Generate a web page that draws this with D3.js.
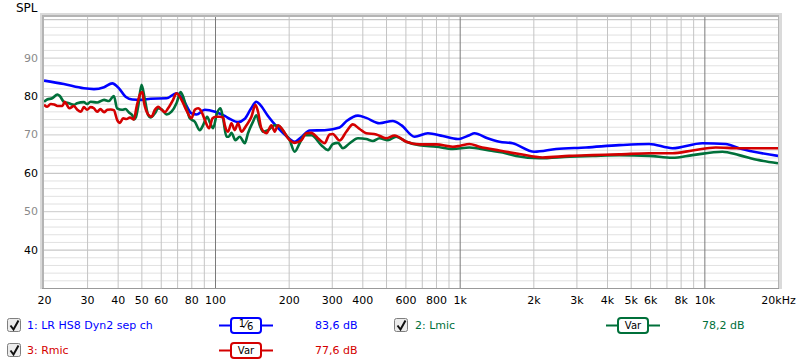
<!DOCTYPE html>
<html>
<head>
<meta charset="utf-8">
<script src="https://cdn.jsdelivr.net/npm/d3@7"></script>
<style>
    body { margin: 0; background: #ffffff; }
    text { font-family: "DejaVu Sans", sans-serif; font-size: 11px; }
</style>
</head>
<body>
<div id="chart"></div>
<script>
// tick labels on the frequency axis
var freqTicks = [20, 30, 40, 50, 60, 80, 100, 200, 300, 400, 600, 800, 1000, 2000, 3000, 4000, 5000, 6000, 8000, 10000, 20000];
var freqLabels = ['20', '30', '40', '50', '60', '80', '100', '200', '300', '400', '600', '800', '1k', '2k', '3k', '4k', '5k', '6k', '8k', '10k', '20kHz'];
var freqGrid = [30, 40, 50, 60, 70, 80, 90, 100, 200, 300, 400, 500, 600, 700, 800, 900, 1000,
    2000, 3000, 4000, 5000, 6000, 7000, 8000, 9000, 10000];
var freqMajor = [100, 1000, 10000];
var splTicks = [40, 50, 60, 70, 80, 90];

// legend
var legendNames = ['1: LR HS8 Dyn2 sep ch', '2: Lmic', '3: Rmic'];
var legendSmooth = ['1/6', 'Var', 'Var'];
var legendLevels = ['83,6 dB', '78,2 dB', '77,6 dB'];

// series: [Hz, dB]
var lrData = [[20, 84.0], [24.1, 83.1], [29.1, 82.0], [32, 81.8], [35.2, 82.3], [38, 83.3], [40.5, 82.0],
    [43.1, 79.8], [45.9, 79.1], [50, 79.0], [54.5, 79.3], [63.4, 79.4], [69.6, 80.7], [74.1, 79.0],
    [80.1, 75.5], [84, 75.2], [90.8, 76.4], [100, 75.9], [109.6, 74.8], [116, 73.9], [124.2, 73.2],
    [132, 74.0], [140, 76.6], [147.6, 78.5], [153, 77.7], [164.6, 74.8], [180, 71.8], [196, 69.5],
    [211.6, 68.1], [228, 69.6], [243.6, 71.0], [280.6, 71.1], [323, 71.8], [345, 73.5], [384, 74.9],
    [415, 74.3], [470, 72.9], [533, 73.5], [577, 72.4], [654, 69.4], [741, 70.3], [853, 69.6],
    [982, 68.8], [1096, 69.8], [1149, 70.3], [1300, 69.0], [1453, 68.1], [1646, 67.7], [2019, 65.5],
    [2476, 66.2], [3282, 66.6], [4488, 67.2], [5950, 67.5], [7406, 66.4], [9818, 67.7], [12234, 67.5],
    [13862, 66.4], [20000, 64.4]];

var lmicData = [[20, 78.5], [20.6, 79.1], [21.6, 79.4], [22.7, 80.4], [23.2, 80.0], [24.1, 78.5],
    [25.3, 78.1], [26.5, 77.7], [27.3, 78.1], [29.1, 78.4], [30, 77.9], [31, 78.5], [33, 78.3],
    [35.2, 79.0], [36.8, 78.7], [38.6, 80.0], [39.8, 76.8], [41.7, 76.4], [43, 76.6], [44.5, 75.7],
    [45.9, 75.0], [46.6, 73.9], [47.5, 74.5], [48.5, 77.2], [50.1, 82.9], [51.7, 79.0], [53.3, 75.0],
    [54.5, 74.4], [56.8, 75.5], [58.6, 76.8], [60.5, 76.5], [63.4, 75.2], [66.4, 75.9], [69.6, 78.1],
    [72.3, 81.0], [74.1, 79.8], [76.5, 76.8], [78.9, 74.2], [82.7, 73.3], [86.7, 71.1], [89.4, 72.4],
    [92.8, 74.6], [95.5, 73.0], [98.2, 71.6], [101.9, 75.5], [105.3, 76.8], [107.9, 74.2], [111.4, 69.4],
    [113.8, 69.4], [116.7, 70.4], [121.2, 68.5], [126.2, 69.4], [132.3, 67.7], [136.4, 70.3], [143, 73.3],
    [147.6, 75.0], [152.3, 72.4], [157.1, 70.7], [164.6, 71.1], [175.4, 72.4], [183.8, 72.0], [192.6, 70.3],
    [201.9, 68.5], [211.6, 65.5], [221.8, 67.7], [232.4, 69.8], [247.6, 69.8], [272, 67.2], [289.4, 65.9],
    [303, 67.5], [318, 67.8], [333, 66.4], [355, 67.7], [384, 69.0], [415, 68.8], [442, 68.3], [470, 69.0],
    [509, 68.5], [550, 69.4], [605, 68.1], [685, 67.2], [802, 66.8], [937, 66.2], [1096, 66.6],
    [1323, 65.8], [1499, 65.3], [1700, 64.4], [2116, 63.8], [2806, 64.2], [3492, 64.4], [4488, 64.6],
    [5950, 64.4], [7406, 63.9], [8938, 64.6], [11848, 65.5], [13862, 64.6], [16730, 63.3], [20000, 62.5]];

var rmicData = [[20, 77.7], [20.6, 77.2], [21.3, 77.9], [22, 77.8], [22.7, 77.4], [23.8, 77.4],
    [24.3, 78.5], [24.7, 77.9], [25.4, 76.8], [26.5, 77.4], [27.3, 76.5], [28.3, 75.9], [29.1, 77.1],
    [30, 76.4], [31, 77.1], [32, 76.8], [33, 75.9], [34, 76.6], [35.2, 75.8], [36.3, 76.4], [37.5, 76.5],
    [38.6, 76.3], [39.8, 73.8], [40.9, 73.0], [42.1, 74.2], [43.5, 74.0], [44.9, 74.4], [46.6, 73.9],
    [47.8, 77.2], [49.6, 80.7], [50.5, 81.0], [51.2, 78.5], [53.3, 75.2], [55, 74.6], [56.8, 76.4],
    [58.6, 77.2], [60.5, 76.4], [62.4, 75.8], [64.3, 76.8], [67.4, 79.0], [69.6, 80.7], [71.8, 79.8],
    [74.1, 78.1], [76.9, 75.9], [80.1, 74.2], [82.7, 76.4], [85.3, 76.8], [88.1, 75.9], [90.8, 73.8],
    [94.6, 71.6], [97.7, 74.2], [100.7, 74.6], [104.6, 74.6], [107.9, 74.4], [109.6, 72.4], [113, 70.7],
    [116.7, 72.9], [120.4, 71.1], [124.2, 72.9], [128.2, 70.7], [134.4, 72.4], [140.9, 74.6], [146.3, 77.7],
    [149.9, 75.9], [154.7, 71.6], [162.2, 70.3], [170, 72.4], [175.4, 70.7], [180.9, 72.4], [189.6, 71.1],
    [198.7, 69.0], [211.6, 67.8], [225.4, 68.5], [236.2, 70.3], [247.6, 70.4], [263.4, 69.0], [280.6, 67.7],
    [294, 70.0], [303, 70.1], [323, 68.4], [344, 70.7], [366, 72.6], [390, 71.4], [415, 70.3], [456, 70.0],
    [501, 69.0], [542, 69.7], [605, 68.1], [685, 67.4], [802, 67.4], [937, 66.8], [998, 67.0], [1096, 67.5],
    [1204, 66.8], [1453, 65.8], [1754, 64.9], [2183, 64.0], [2806, 64.4], [3492, 64.6], [4488, 64.8],
    [5950, 65.1], [7406, 65.1], [8938, 65.8], [11136, 66.6], [13862, 66.4], [20000, 66.4]];

var width = 800,
    height = 364,
    plotLeft = 44,
    plotRight = 778,
    plotTop = 17,
    plotBottom = 288,
    blue = '#0000ff',
    green = '#00703a',
    red = '#d40000';

var svg = d3.select('#chart').append('svg')
    .attr('width', width)
    .attr('height', height);

var x = d3.scaleLog().domain([20, 20000]).range([plotLeft, plotRight]);
var y = d3.scaleLinear().domain([30, 100]).range([plotBottom, 19.2]);

// sunken frame round the plot
svg.append('rect').attr('x', 40).attr('y', 13).attr('width', plotRight - 40 + 4).attr('height', plotBottom - 13 + 1)
    .attr('fill', '#dadada');
svg.append('rect').attr('x', 42).attr('y', 15).attr('width', plotRight - 42 + 1).attr('height', plotBottom - 15)
    .attr('fill', '#b4b4b4');
svg.append('rect').attr('x', plotLeft).attr('y', plotTop).attr('width', plotRight - plotLeft).attr('height', plotBottom - plotTop)
    .attr('fill', '#ffffff');

// horizontal grid
var hGrid = svg.append('g').attr('transform', 'translate(' + plotLeft + ',0)')
    .call(d3.axisLeft(y).tickValues(d3.range(32, 101, 2)).tickSize(-(plotRight - plotLeft)).tickFormat(''));
hGrid.select('.domain').remove();
hGrid.selectAll('line').attr('stroke', function (d) {
    if (d % 20 === 0) return '#b9b9b9';
    return d % 10 === 0 ? '#cacaca' : '#e1e1e1';
});

// vertical grid
var vGrid = svg.append('g').attr('transform', 'translate(0,' + plotBottom + ')')
    .call(d3.axisBottom(x).tickValues(freqGrid).tickSize(-(plotBottom - plotTop)).tickFormat(''));
vGrid.select('.domain').remove();
vGrid.selectAll('line').attr('stroke', function (d) {
    return freqMajor.indexOf(d) >= 0 ? '#7a7a7a' : '#c4c4c4';
});

// bottom edge
svg.append('line').attr('x1', 42).attr('x2', plotRight + 1).attr('y1', plotBottom + 0.5).attr('y2', plotBottom + 0.5)
    .attr('stroke', '#9a9a9a');

// labels
var xAxis = svg.append('g').attr('transform', 'translate(0,' + plotBottom + ')')
    .call(d3.axisBottom(x).tickValues(freqTicks).tickSize(0).tickPadding(8)
        .tickFormat(function (d, i) { return freqLabels[i]; }));
xAxis.select('.domain').remove();
xAxis.selectAll('text').attr('fill', '#000').style('font-family', '"DejaVu Sans", sans-serif').style('font-size', '11px');

var yAxis = svg.append('g').attr('transform', 'translate(' + plotLeft + ',0)')
    .call(d3.axisLeft(y).tickValues(splTicks).tickSize(0).tickPadding(6));
yAxis.select('.domain').remove();
yAxis.selectAll('text').attr('fill', function (d) { return d % 20 === 0 ? '#000' : '#8a8a8a'; })
    .style('font-family', '"DejaVu Sans", sans-serif').style('font-size', '11px');

svg.append('text').attr('x', 16).attr('y', 12).style('font-size', '12px').text('SPL');

// curves
svg.append('clipPath').attr('id', 'plotclip').append('rect')
    .attr('x', plotLeft).attr('y', plotTop).attr('width', plotRight - plotLeft).attr('height', plotBottom - plotTop);

var line = d3.line()
    .x(function (d) { return x(d[0]); })
    .y(function (d) { return y(d[1]); })
    .curve(d3.curveMonotoneX);

var curves = svg.append('g').attr('clip-path', 'url(#plotclip)');
[[lrData, blue], [lmicData, green], [rmicData, red]].forEach(function (s) {
    curves.append('path').datum(s[0])
        .attr('d', line)
        .attr('fill', 'none')
        .attr('stroke', s[1])
        .attr('stroke-width', 2.6)
        .attr('stroke-linejoin', 'round');
});

// legend
var legendPos = [{ cx: 7, tx: 27, lx: 219, vx: 315, y: 325 },
                 { cx: 394, tx: 415, lx: 606, vx: 702, y: 325 },
                 { cx: 7, tx: 27, lx: 219, vx: 315, y: 350 }];
var legendColors = [blue, green, red];

legendNames.forEach(function (name, i) {
    var p = legendPos[i],
        c = legendColors[i],
        g = svg.append('g');

    // checkbox
    g.append('rect').attr('x', p.cx + 0.5).attr('y', p.y - 6.5).attr('width', 13).attr('height', 13)
        .attr('rx', 2).attr('fill', '#ececec').attr('stroke', '#7f7f7f');
    g.append('path').attr('d', 'M' + (p.cx + 3.5) + ',' + (p.y + 0.5) + ' l3,4 l5,-9')
        .attr('fill', 'none').attr('stroke', '#111').attr('stroke-width', 2);

    g.append('text').attr('x', p.tx).attr('y', p.y + 4).attr('fill', c).text(name);

    g.append('line').attr('x1', p.lx).attr('x2', p.lx + 54).attr('y1', p.y + 0.5).attr('y2', p.y + 0.5)
        .attr('stroke', c).attr('stroke-width', 2);
    g.append('rect').attr('x', p.lx + 12).attr('y', p.y - 7).attr('width', 30).attr('height', 15)
        .attr('rx', 3).attr('fill', '#fff').attr('stroke', c).attr('stroke-width', 2);

    var t = g.append('text').attr('x', p.lx + 27).attr('y', p.y + 4).attr('text-anchor', 'middle')
        .attr('fill', '#000');
    if (legendSmooth[i] === '1/6') {
        t.append('tspan').attr('dy', -2).style('font-size', '10px').text('1');
        t.append('tspan').attr('dy', 1).style('font-size', '11px').text('\u2044');
        t.append('tspan').attr('dy', 2).style('font-size', '10px').text('6');
    } else {
        t.style('font-size', '10px').text(legendSmooth[i]);
    }

    g.append('text').attr('x', p.vx).attr('y', p.y + 4).attr('fill', c).text(legendLevels[i]);
});
</script>
</body>
</html>
